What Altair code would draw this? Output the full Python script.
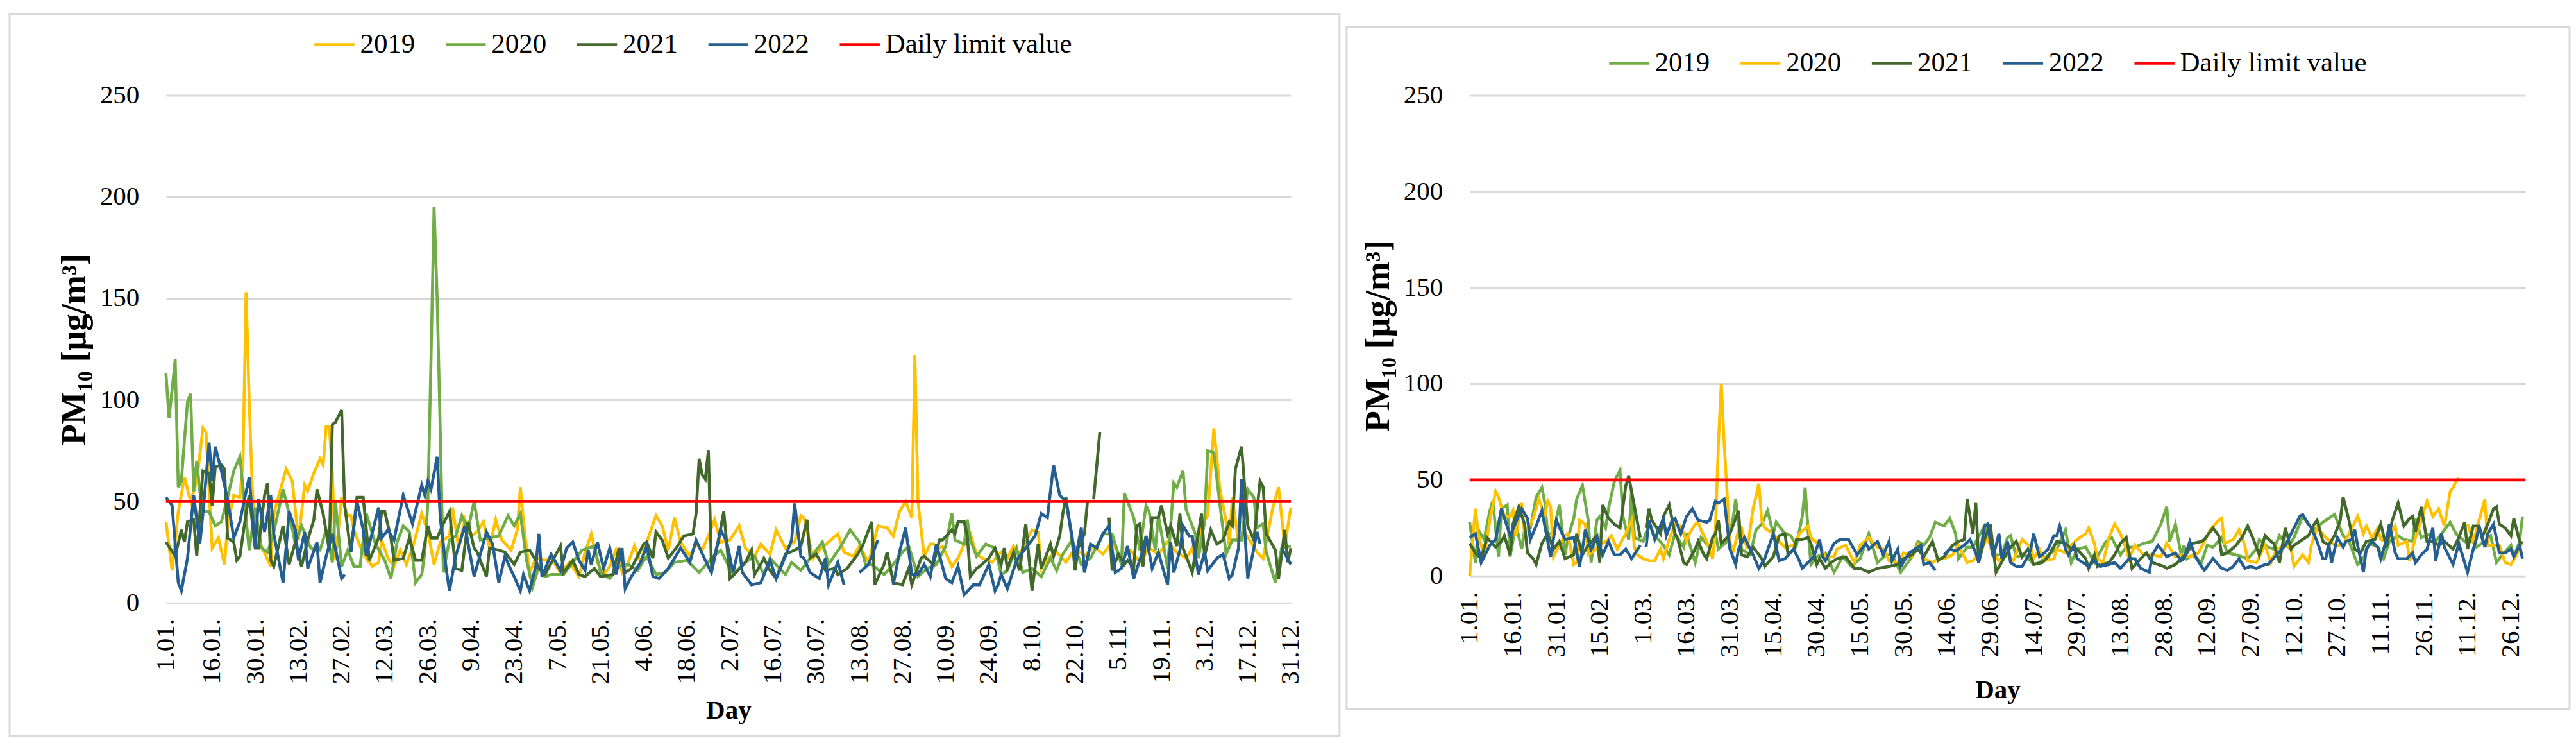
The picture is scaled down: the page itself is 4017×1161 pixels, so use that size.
import altair as alt
import pandas as pd

SERIES = ["2019", "2020", "2021", "2022", "Daily limit value"]
LEFT_COLORS = ["#FFC000", "#70AD47", "#43682B", "#255E91", "#FF0000"]
RIGHT_COLORS = ["#70AD47", "#FFC000", "#43682B", "#255E91", "#FF0000"]
LIMIT = 50
Y_TICKS = [0, 50, 100, 150, 200, 250]
LEFT_TICKS = [1] + list(range(16, 367, 14))
RIGHT_TICKS = list(range(1, 362, 15))

# left panel, (day of year, PM10)
L19 = [(1,40),(3,16),(5,45),(7,62),(9,50),(11,60),(13,86),(14,84),(16,27),(18,32),(20,19),(21,38),(23,53),(25,52),(26,70),(27,153),(28,100),(29,57),(30,31),(32,28),(35,18),(36,44),(38,55),(40,66),(42,60),(44,31),(46,58),(47,55),(49,64),(51,71),(52,68),(53,87),(54,87),(55,64),(56,21),(58,52),(60,43),(61,43),(62,36),(64,28),(66,22),(68,18),(70,20),(71,31),(73,22),(75,18),(77,26),(79,19),(81,27),(84,44),(86,35),(88,19),(90,30),(93,33),(94,47),(96,27),(98,41),(100,33),(102,35),(104,40),(106,27),(108,41),(110,31),(113,26),(115,36),(116,57),(117,40),(119,15),(121,22),(124,21),
       (126,22),(129,15),(132,20),(135,13),(137,25),(139,34),(141,20),(143,14),(145,18),(147,26),(149,15),(151,20),(153,28),(155,20),(157,30),(160,43),(162,38),(164,26),(166,42),(168,30),(171,23),(173,29),(175,26),(177,33),(179,41),(181,30),(184,31),(187,38),(189,27),(192,23),(194,29),(197,24),(199,36),(202,27),(205,30),(207,43),(208,42),(211,22),(213,26),(216,30),(219,34),(221,25),(224,23),(226,28),(229,20),(232,38),(235,37),(237,33),(239,45),(241,50),(243,42),(244,122),(245,50),(247,23),
       (249,29),(250,29),(252,27),(253,28),(256,18),(258,22),(260,29),(262,34),(264,24),(266,22),(269,20),(272,25),(274,22),(276,28),(278,24),(280,30),(282,36),(284,35),(285,17),(287,22),(290,25),(293,20),(296,27),(299,23),(302,28),(305,24),(308,30),(311,22),(314,26),(317,20),(320,27),(323,24),(326,30),(329,25),(332,22),(334,27),(335,21),(337,38),(339,43),(341,86),(343,56),(345,40),(346,28),(347,52),(349,30),(351,35),(353,30),(355,25),(357,22),(358,30),(360,46),(362,57),(364,28),(366,47)]

L20 = [(1,113),(2,91),(3,105),(4,120),(5,57),(6,60),(7,80),(8,99),(9,103),(10,55),(11,70),(12,55),(13,45),(15,45),(17,38),(19,40),(21,52),(23,65),(25,72),(26,57),(28,26),(30,47),(32,27),(34,25),(36,35),(39,56),(41,44),(43,29),(45,38),(48,27),(51,26),(53,36),(55,20),(56,50),(58,18),(60,26),(62,18),(64,18),(66,44),(69,29),(72,21),(74,12),(76,30),(78,38),(80,35),(82,10),(84,14),(85,25),(86,50),(87,120),(88,195),(89,150),(90,85),(91,15),(93,31),(95,33),(97,43),(99,36),(101,50),(103,31),(106,32),(109,33),(112,43),(114,38),(116,44),(118,21),(120,8),(122,18),(124,13),
       (126,14),(130,14),(133,20),(136,26),(140,28),(142,15),(145,12),(148,18),(151,19),(154,16),(157,23),(160,14),(163,15),(166,20),(170,21),(174,15),(178,22),(181,26),(185,14),(189,20),(192,23),(195,14),(197,22),(202,14),(204,20),(207,16),(210,22),(214,30),(216,19),(220,28),(223,36),(226,30),(228,19),(230,19),(234,14),(237,19),(240,25),(242,28),(245,13),
       (248,17),(251,19),(254,28),(256,44),(257,31),(260,29),(261,41),(262,31),(264,23),(267,29),(270,27),(272,14),(274,16),(277,27),(279,15),(282,17),(285,13),(288,22),(290,16),(292,24),(295,31),(298,19),(301,22),(305,34),(308,34),(311,19),(312,54),(314,46),(315,42),(317,26),(319,48),(320,45),(322,26),(323,43),(326,17),(328,59),(329,57),(331,65),(332,46),(335,34),(336,22),(338,40),(339,75),(341,74),(343,48),(345,24),(347,31),(350,31),(352,56),(354,52),(355,37),(357,39),(358,25),(361,10),(363,27),(366,28)]

L21 = [(1,30),(4,23),(6,36),(7,30),(8,40),(10,41),(11,23),(13,65),(15,64),(16,48),(17,67),(19,68),(20,66),(21,32),(23,30),(24,21),(25,23),(27,44),(28,53),(30,27),(31,27),(33,53),(34,59),(35,21),(36,18),(39,38),(41,19),(43,30),(45,18),(47,31),(49,41),(50,56),(52,44),(54,26),(55,88),(56,89),(58,95),(59,48),(61,25),(63,52),(65,52),(67,21),(70,32),(71,45),(72,45),(74,32),(75,21),(78,22),(80,32),(82,21),(84,21),(86,38),(87,32),(89,32),(91,39),(93,45),(95,17),(97,16),(99,40),(101,27),(102,25),(105,13),(106,27),(109,26),(111,25),(114,19),(116,25),(119,26),(121,21),(122,17),
       (124,14),(129,28),(130,15),(133,21),(135,14),(137,13),(140,17),(142,13),(146,14),(148,27),(150,15),(152,17),(156,29),(157,30),(159,22),(160,35),(162,31),(164,22),(167,28),(169,33),(172,34),(173,44),(174,71),(175,63),(176,61),(177,75),(178,18),(180,29),(182,45),(184,12),(186,15),(189,20),(191,26),(192,14),(194,19),(195,22),(197,16),(199,12),(202,24),(205,26),(207,28),(209,41),(210,22),(212,24),(215,16),(218,17),(219,14),(222,17),(225,23),(227,28),(230,40),(231,9),(234,19),(235,25),(237,10),(240,9),(242,17),(243,9),(246,22),
       (247,23),(250,19),(252,31),(253,31),(256,36),(257,34),(258,40),(260,40),(261,33),(262,13),(264,17),(265,18),(268,22),(270,27),(272,19),(273,27),(274,17),(276,25),(278,16),(280,39),(282,6),(284,29),(285,17),(288,29),(289,23),(291,33),(292,44),(293,52),(295,31),(296,16),(297,27),(299,34),(300,50),(301,None),(302,51),(304,84),(305,None),(307,42),(308,16),(310,24),(312,19),(313,21),(315,17),(316,38),(317,39),(318,18),(319,33),(320,26),(321,42),(323,42),(324,48),(326,34),(327,38),(329,28),(330,44),(331,27),(334,15),(337,44),(338,23),(340,36),(342,29),(344,31),(346,40),(347,38),(348,66),(350,77),(352,38),(354,31),(356,60),(357,57),(358,34),(361,26),(362,12),(364,36),(365,20),(366,27)]

L22 = [(1,52),(3,48),(5,10),(6,6),(8,22),(10,53),(12,29),(13,44),(15,79),(16,60),(17,77),(19,65),(21,51),(23,32),(25,40),(28,62),(30,27),(31,51),(33,35),(35,53),(36,34),(39,10),(41,45),(43,36),(44,21),(46,35),(47,17),(50,30),(51,10),(53,23),(55,34),(58,12),(59,14),(60,None),(61,25),(63,50),(65,36),(66,23),(70,47),(71,32),(73,36),(75,31),(78,53),(81,39),(84,58),(85,53),(86,60),(87,56),(89,72),(90,42),(92,16),(93,6),(95,23),(98,38),(101,13),(105,35),(107,29),(109,10),(111,23),(113,16),(114,13),(116,6),(117,14),(119,6),(121,18),(122,34),(123,13),
       (126,24),(129,16),(131,27),(133,30),(135,21),(137,16),(138,26),(139,19),(141,30),(143,17),(145,27),(147,14),(149,27),(150,7),(152,13),(155,20),(157,28),(159,13),(161,12),(164,17),(166,22),(168,27),(171,20),(173,31),(176,21),(178,15),(181,36),(183,30),(185,15),(187,28),(188,15),(191,9),(194,10),(197,21),(199,12),(202,23),(204,31),(205,49),(207,23),(208,22),(210,15),(213,12),(215,22),(216,9),(219,20),(221,9),(222,None),(226,15),(229,19),(232,31),(233,None),(237,9),(239,25),(241,37),(243,14),
       (245,14),(247,19),(249,13),(251,29),(254,12),(256,10),(258,18),(260,4),(263,9),(265,9),(268,19),(270,6),(271,9),(272,14),(274,7),(277,21),(280,27),(283,33),(285,44),(287,42),(289,68),(291,53),(293,50),(295,33),(296,21),(298,37),(299,15),(301,29),(303,27),(305,34),(307,38),(309,15),(311,17),(313,28),(315,12),(318,26),(319,33),(321,17),(323,25),(326,9),(327,30),(328,15),(330,26),(331,38),(333,33),(334,33),(336,14),(338,25),(339,16),(342,22),(344,24),(346,12),(347,14),(349,27),(350,61),(352,12),(354,27),(355,35),(356,29),(357,None),(363,27),(366,19)]

# right panel
R19 = [(1,28),(3,7),(4,24),(6,19),(8,34),(9,39),(11,10),(12,35),(14,37),(15,10),(17,27),(19,14),(20,24),(22,25),(24,41),(26,46),(27,38),(28,22),(30,22),(32,37),(34,11),(35,20),(37,30),(38,40),(40,47),(42,29),(43,7),(45,29),(46,31),(48,25),(49,35),(51,49),(53,55),(54,31),(56,19),(57,45),(58,20),(61,18),(63,27),(65,21),(68,16),(70,11),(72,22),(75,15),(76,22),(79,7),(81,20),(84,15),(86,22),(87,14),(90,18),(92,29),(93,40),(95,14),(98,11),(100,24),(102,27),(104,34),(106,22),(107,28),(110,22),(112,21),(114,16),(116,31),(117,46),(118,24),(119,6),(121,10),(124,12),
       (127,2),(130,10),(133,5),(136,9),(139,22),(142,7),(145,11),(147,11),(150,2),(154,10),(156,18),(158,16),(160,20),(162,28),(165,26),(167,30),(169,22),(170,9),(173,15),(175,15),(179,26),(182,11),(185,11),(187,20),(188,21),(190,10),(193,11),(196,6),(198,7),(201,11),(204,14),(207,24),(209,7),(211,14),(214,15),(217,7),(218,10),(221,18),(223,20),(226,11),(228,15),(231,15),(234,17),(237,18),(240,27),(242,36),(243,18),(245,27),(247,11),
       (248,16),(249,9),(251,11),(254,7),(256,16),(258,15),(261,20),(263,12),(266,11),(268,10),(270,9),(273,14),(274,19),(277,15),(279,14),(281,21),(284,15),(286,20),(289,31),(291,27),(293,24),(296,28),(298,30),(300,32),(303,21),(305,18),(308,6),(310,9),(312,17),(315,15),(317,9),(319,18),(322,21),(324,19),(327,18),(328,30),(330,20),(333,22),(335,18),(338,24),(340,28),(342,22),(345,18),(347,20),(349,15),(352,18),(354,21),(356,7),(358,11),(361,16),(362,10),(364,18),(365,31)]

R20 = [(1,0),(3,35),(4,22),(6,10),(8,29),(10,44),(11,41),(13,31),(15,31),(16,34),(17,21),(19,38),(20,22),(22,27),(23,30),(25,40),(27,31),(28,39),(29,36),(30,10),(32,16),(34,21),(35,22),(37,6),(38,7),(39,29),(41,27),(42,11),(44,13),(46,16),(49,19),(50,21),(52,14),(55,22),(57,29),(58,15),(59,11),(61,9),(63,8),(65,8),(67,14),(68,9),(70,19),(72,27),(74,26),(76,18),(77,22),(79,27),(80,28),(81,24),(83,18),(85,9),(86,24),(87,69),(88,100),(89,69),(91,18),(92,12),(94,24),(95,25),(97,14),(99,35),(101,48),(102,29),(103,25),(106,22),(108,18),(110,15),(113,16),(115,22),(118,26),(119,20),(122,16),(124,10),
       (127,10),(128,14),(131,16),(134,7),(136,16),(139,20),(142,15),(144,14),(146,8),(149,7),(151,12),(154,10),(156,16),(158,9),(161,7),(163,9),(165,9),(168,11),(170,16),(173,7),(175,8),(177,11),(180,20),(182,12),(184,8),(187,11),(189,8),(192,19),(195,15),(196,9),(198,14),(200,8),(203,9),(204,14),(207,12),(209,16),(211,19),(214,22),(215,25),(217,17),(218,9),(220,7),(222,20),(224,27),(226,22),(228,14),(229,9),(231,16),(234,11),(237,11),(240,10),(242,17),(245,10),(247,11),
       (250,10),(253,12),(257,24),(260,29),(261,30),(262,17),(265,19),(267,24),(269,16),(270,8),(273,7),(276,16),(278,7),(280,14),(283,16),(285,14),(286,5),(289,11),(291,7),(292,16),(294,25),(297,20),(300,16),(303,16),(305,22),(308,31),(310,22),(311,26),(313,20),(315,25),(316,19),(318,18),(321,26),(322,16),(325,18),(326,8),(328,20),(330,29),(332,39),(334,31),(336,35),(338,26),(340,44),(341,46),(342,49),(343,51),(344,None),(346,27),(348,18),(352,40),(353,16),(357,16),(359,7),(361,6),(363,11),(365,18)]

R21 = [(1,17),(3,12),(5,9),(7,20),(10,15),(12,18),(13,21),(15,11),(16,27),(18,36),(20,27),(21,12),(23,9),(24,6),(26,17),(28,22),(30,14),(32,18),(34,9),(37,11),(38,22),(40,11),(42,16),(45,21),(46,7),(47,37),(49,30),(51,27),(53,25),(55,47),(56,52),(58,36),(60,20),(61,None),(62,25),(63,35),(64,29),(67,22),(68,31),(70,37),(72,22),(73,19),(75,7),(76,6),(79,14),(80,18),(82,11),(83,9),(85,20),(86,22),(87,29),(88,17),(90,20),(91,22),(94,34),(95,11),(97,10),(99,15),(102,9),(103,5),(106,10),(108,21),(110,22),(111,12),(113,13),(114,19),(116,19),(118,20),(119,17),(121,6),(122,9),(124,4),
       (126,7),(128,9),(131,10),(134,4),(136,4),(139,2),(142,4),(146,5),(149,6),(151,9),(154,11),(156,14),(158,10),(161,18),(163,8),(165,10),(168,16),(170,18),(172,19),(173,40),(175,22),(176,38),(177,7),(179,19),(181,27),(183,2),(186,10),(188,15),(190,18),(192,10),(194,14),(196,6),(199,7),(201,10),(204,18),(207,17),(209,14),(211,14),(214,9),(215,4),(217,11),(218,5),(222,7),(224,11),(226,17),(228,20),(230,4),(233,9),(235,12),(237,7),(241,5),(242,4),(245,6),(247,9),
       (249,12),(251,17),(254,18),(255,19),(258,25),(260,21),(261,11),(263,12),(266,16),(268,20),(270,26),(272,19),(274,11),(276,21),(278,18),(279,17),(281,7),(283,25),(285,14),(286,16),(289,19),(291,21),(293,27),(294,29),(296,18),(298,16),(300,21),(302,29),(303,41),(305,29),(307,14),(309,12),(311,18),(314,19),(316,27),(318,15),(320,29),(322,38),(324,26),(326,30),(327,31),(328,23),(330,36),(332,18),(334,18),(336,16),(338,18),(341,14),(343,20),(345,28),(346,14),(348,26),(350,26),(351,20),(353,27),(355,35),(356,36),(357,27),(359,25),(361,21),(362,30),(364,18),(365,17)]

R22 = [(1,20),(3,22),(5,7),(8,16),(10,19),(12,35),(15,21),(17,28),(19,35),(21,30),(22,19),(24,26),(26,34),(29,10),(31,29),(33,22),(34,19),(37,20),(39,5),(40,14),(41,24),(43,14),(45,20),(47,11),(49,18),(51,11),(53,11),(55,14),(57,9),(60,16),(61,None),(62,15),(63,29),(65,19),(68,30),(69,21),(71,29),(72,30),(74,22),(76,31),(78,35),(80,29),(83,28),(84,29),(86,39),(87,38),(89,40),(91,14),(93,6),(94,14),(96,20),(99,11),(101,4),(103,9),(106,22),(108,8),(110,9),(113,14),(115,8),(116,4),(118,7),(120,10),(122,19),(123,10),
       (124,8),(127,17),(129,19),(132,19),(135,11),(138,17),(139,14),(142,18),(144,11),(146,18),(147,8),(149,14),(150,5),(153,12),(155,14),(157,16),(158,6),(160,7),(162,3),(163,None),(165,11),(167,14),(169,13),(172,16),(174,19),(176,12),(177,7),(179,26),(180,27),(182,10),(184,22),(185,9),(187,18),(188,7),(190,5),(192,5),(194,10),(195,14),(196,22),(198,10),(199,11),(201,14),(203,21),(204,21),(205,26),(207,14),(208,11),(210,16),(211,9),(214,6),(215,5),(217,8),(219,5),(222,6),(224,7),(226,4),(229,9),(231,9),(233,4),(236,2),(237,11),(239,16),(242,10),(245,12),(247,8),
       (248,9),(250,18),(252,10),(254,5),(255,3),(258,9),(261,4),(263,3),(265,5),(267,9),(269,4),(271,5),(273,4),(276,6),(277,6),(280,11),(283,16),(285,22),(288,31),(289,32),(291,27),(292,25),(294,18),(296,9),(297,9),(298,17),(299,7),(301,20),(303,15),(304,18),(306,19),(307,24),(308,16),(310,2),(311,14),(313,18),(315,15),(316,9),(318,19),(319,27),(321,12),(322,9),(325,9),(327,12),(328,7),(330,11),(332,14),(334,25),(335,8),(337,22),(338,15),(341,6),(343,17),(346,2),(348,14),(349,19),(350,26),(352,15),(353,22),(355,27),(357,12),(359,12),(361,14),(362,10),(364,16),(365,9)]

FONT = "Liberation Serif"
GRID = "#D9D9D9"


def panel(lists, colors, ticks, w, h, frame, legend_xy, top, day_pad):
    rows = []
    for name, pts in zip(SERIES[:4], lists):
        for d, v in pts:
            rows.append({"day": d, "pm": v, "series": name})
    rows.append({"day": 1, "pm": LIMIT, "series": SERIES[4]})
    rows.append({"day": 366, "pm": LIMIT, "series": SERIES[4]})
    df = pd.DataFrame(rows)

    lines = alt.Chart(df).mark_line(invalid="break-paths-show-domains").encode(
        x=alt.X("day:Q", scale=alt.Scale(domain=[1, 366], nice=False, zero=False),
                axis=alt.Axis(values=ticks, title="Day", grid=False, domain=False, ticks=False,
                              labelAngle=270, labelFlush=False, labelOverlap=False,
                              labelExpr="timeFormat(datetime(2020, 0, datum.value), '%-d.%m.')",
                              labelPadding=24, titlePadding=day_pad, titleFontSize=41)),
        y=alt.Y("pm:Q", scale=alt.Scale(domain=[0, 250], nice=False),
                axis=alt.Axis(values=Y_TICKS, title="PM₁₀ [μg/m³]", grid=True, gridColor=GRID,
                              gridWidth=3, domain=False, ticks=False, labelPadding=42,
                              titlePadding=12, titleFontSize=54)),
        color=alt.Color("series:N", scale=alt.Scale(domain=SERIES, range=colors),
                        legend=alt.Legend(title=None, orient="none", legendX=legend_xy[0],
                                          legendY=legend_xy[1], direction="horizontal",
                                          symbolType="stroke", symbolSize=3900,
                                          symbolStrokeWidth=4.5, labelFont=FONT,
                                          labelFontSize=43, labelColor="black", labelOffset=6,
                                          labelLimit=600, columnPadding=38)),
        strokeWidth=alt.StrokeWidth("series:N", legend=None,
                                    scale=alt.Scale(domain=SERIES, range=[4.6, 4.6, 4.6, 4.6, 6.5])),
    )

    box = alt.Chart(pd.DataFrame({"k": [0]})).mark_rect(
        fill="white", fillOpacity=0, stroke=GRID, strokeWidth=3
    ).encode(x=alt.value(frame[0]), x2=alt.value(frame[1]),
             y=alt.value(frame[2]), y2=alt.value(frame[3]))

    spacer = alt.Chart(pd.DataFrame({"k": [0]})).mark_rule(strokeOpacity=0).encode(
        x=alt.value(0), y=alt.value(top), y2=alt.value(top + 2))

    return alt.layer(box, spacer, lines).properties(width=w, height=h)


left = panel([L19, L20, L21, L22], LEFT_COLORS, LEFT_TICKS, 1756, 792,
             (-244, 1832, -126, 999), (229, -113), -126, 22)
right = panel([R19, R20, R21, R22], RIGHT_COLORS, RIGHT_TICKS, 1648, 750,
              (-192, 1717, -106, 958), (215, -84), -135, 32)

chart = alt.hconcat(left, right, spacing=7).resolve_scale(
    color="independent", strokeWidth="independent"
).properties(
    padding={"left": 5, "top": 5, "right": 0, "bottom": 0}
).configure_view(
    strokeWidth=0
).configure_axis(
    labelFont=FONT, labelFontSize=41, labelColor="black",
    titleFont=FONT, titleFontWeight="bold", titleColor="black"
)

chart.save("out.html", embed_options={"renderer": "svg", "actions": False})
